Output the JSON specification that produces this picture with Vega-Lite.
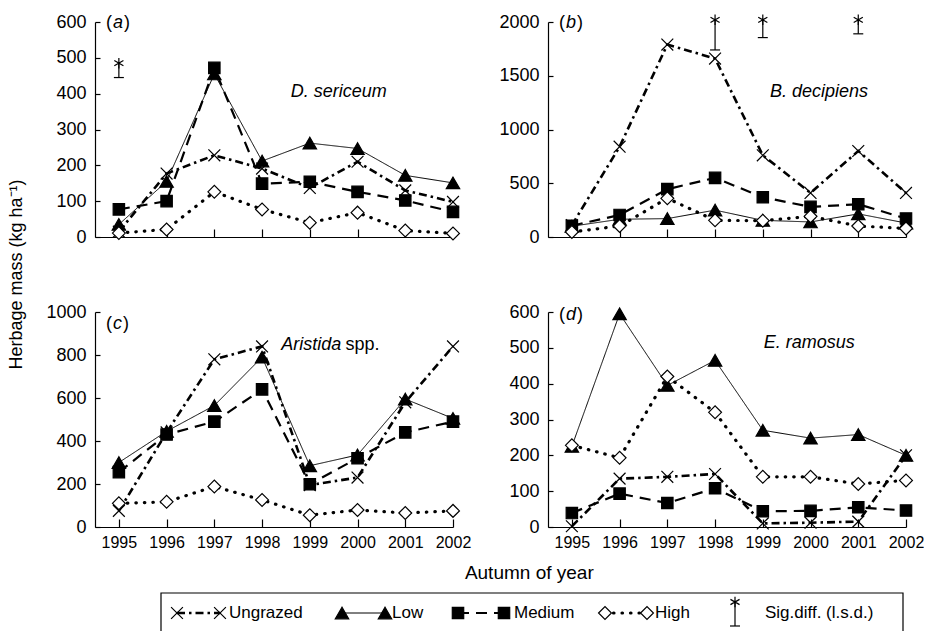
{
  "$schema": "https://vega.github.io/schema/vega-lite/v6.json",
  "background": "white",
  "padding": {"left": 7, "top": 12, "right": 0, "bottom": 0},
  "datasets": {
    "series": [
      {"p":"a","s":"Ungrazed","yr":1995,"v":15},{"p":"a","s":"Ungrazed","yr":1996,"v":177},{"p":"a","s":"Ungrazed","yr":1997,"v":228},{"p":"a","s":"Ungrazed","yr":1998,"v":191},{"p":"a","s":"Ungrazed","yr":1999,"v":137},{"p":"a","s":"Ungrazed","yr":2000,"v":210},{"p":"a","s":"Ungrazed","yr":2001,"v":130},{"p":"a","s":"Ungrazed","yr":2002,"v":98},
      {"p":"a","s":"Low","yr":1995,"v":35},{"p":"a","s":"Low","yr":1996,"v":155},{"p":"a","s":"Low","yr":1997,"v":455},{"p":"a","s":"Low","yr":1998,"v":212},{"p":"a","s":"Low","yr":1999,"v":262},{"p":"a","s":"Low","yr":2000,"v":247},{"p":"a","s":"Low","yr":2001,"v":172},{"p":"a","s":"Low","yr":2002,"v":151},
      {"p":"a","s":"Medium","yr":1995,"v":77},{"p":"a","s":"Medium","yr":1996,"v":100},{"p":"a","s":"Medium","yr":1997,"v":472},{"p":"a","s":"Medium","yr":1998,"v":149},{"p":"a","s":"Medium","yr":1999,"v":154},{"p":"a","s":"Medium","yr":2000,"v":126},{"p":"a","s":"Medium","yr":2001,"v":102},{"p":"a","s":"Medium","yr":2002,"v":70},
      {"p":"a","s":"High","yr":1995,"v":11},{"p":"a","s":"High","yr":1996,"v":21},{"p":"a","s":"High","yr":1997,"v":126},{"p":"a","s":"High","yr":1998,"v":77},{"p":"a","s":"High","yr":1999,"v":40},{"p":"a","s":"High","yr":2000,"v":68},{"p":"a","s":"High","yr":2001,"v":18},{"p":"a","s":"High","yr":2002,"v":10},
      {"p":"b","s":"Ungrazed","yr":1995,"v":110},{"p":"b","s":"Ungrazed","yr":1996,"v":840},{"p":"b","s":"Ungrazed","yr":1997,"v":1790},{"p":"b","s":"Ungrazed","yr":1998,"v":1660},{"p":"b","s":"Ungrazed","yr":1999,"v":760},{"p":"b","s":"Ungrazed","yr":2000,"v":410},{"p":"b","s":"Ungrazed","yr":2001,"v":800},{"p":"b","s":"Ungrazed","yr":2002,"v":410},
      {"p":"b","s":"Low","yr":1995,"v":100},{"p":"b","s":"Low","yr":1996,"v":165},{"p":"b","s":"Low","yr":1997,"v":171},{"p":"b","s":"Low","yr":1998,"v":250},{"p":"b","s":"Low","yr":1999,"v":155},{"p":"b","s":"Low","yr":2000,"v":140},{"p":"b","s":"Low","yr":2001,"v":215},{"p":"b","s":"Low","yr":2002,"v":130},
      {"p":"b","s":"Medium","yr":1995,"v":105},{"p":"b","s":"Medium","yr":1996,"v":205},{"p":"b","s":"Medium","yr":1997,"v":445},{"p":"b","s":"Medium","yr":1998,"v":550},{"p":"b","s":"Medium","yr":1999,"v":370},{"p":"b","s":"Medium","yr":2000,"v":280},{"p":"b","s":"Medium","yr":2001,"v":305},{"p":"b","s":"Medium","yr":2002,"v":172},
      {"p":"b","s":"High","yr":1995,"v":47},{"p":"b","s":"High","yr":1996,"v":102},{"p":"b","s":"High","yr":1997,"v":360},{"p":"b","s":"High","yr":1998,"v":155},{"p":"b","s":"High","yr":1999,"v":152},{"p":"b","s":"High","yr":2000,"v":192},{"p":"b","s":"High","yr":2001,"v":102},{"p":"b","s":"High","yr":2002,"v":80},
      {"p":"c","s":"Ungrazed","yr":1995,"v":75},{"p":"c","s":"Ungrazed","yr":1996,"v":440},{"p":"c","s":"Ungrazed","yr":1997,"v":780},{"p":"c","s":"Ungrazed","yr":1998,"v":840},{"p":"c","s":"Ungrazed","yr":1999,"v":195},{"p":"c","s":"Ungrazed","yr":2000,"v":230},{"p":"c","s":"Ungrazed","yr":2001,"v":580},{"p":"c","s":"Ungrazed","yr":2002,"v":840},
      {"p":"c","s":"Low","yr":1995,"v":300},{"p":"c","s":"Low","yr":1996,"v":445},{"p":"c","s":"Low","yr":1997,"v":565},{"p":"c","s":"Low","yr":1998,"v":790},{"p":"c","s":"Low","yr":1999,"v":285},{"p":"c","s":"Low","yr":2000,"v":335},{"p":"c","s":"Low","yr":2001,"v":595},{"p":"c","s":"Low","yr":2002,"v":505},
      {"p":"c","s":"Medium","yr":1995,"v":255},{"p":"c","s":"Medium","yr":1996,"v":430},{"p":"c","s":"Medium","yr":1997,"v":490},{"p":"c","s":"Medium","yr":1998,"v":640},{"p":"c","s":"Medium","yr":1999,"v":199},{"p":"c","s":"Medium","yr":2000,"v":320},{"p":"c","s":"Medium","yr":2001,"v":440},{"p":"c","s":"Medium","yr":2002,"v":490},
      {"p":"c","s":"High","yr":1995,"v":110},{"p":"c","s":"High","yr":1996,"v":117},{"p":"c","s":"High","yr":1997,"v":188},{"p":"c","s":"High","yr":1998,"v":126},{"p":"c","s":"High","yr":1999,"v":55},{"p":"c","s":"High","yr":2000,"v":79},{"p":"c","s":"High","yr":2001,"v":65},{"p":"c","s":"High","yr":2002,"v":75},
      {"p":"d","s":"Ungrazed","yr":1995,"v":2},{"p":"d","s":"Ungrazed","yr":1996,"v":135},{"p":"d","s":"Ungrazed","yr":1997,"v":140},{"p":"d","s":"Ungrazed","yr":1998,"v":148},{"p":"d","s":"Ungrazed","yr":1999,"v":10},{"p":"d","s":"Ungrazed","yr":2000,"v":12},{"p":"d","s":"Ungrazed","yr":2001,"v":15},{"p":"d","s":"Ungrazed","yr":2002,"v":200},
      {"p":"d","s":"Low","yr":1995,"v":225},{"p":"d","s":"Low","yr":1996,"v":595},{"p":"d","s":"Low","yr":1997,"v":395},{"p":"d","s":"Low","yr":1998,"v":465},{"p":"d","s":"Low","yr":1999,"v":270},{"p":"d","s":"Low","yr":2000,"v":248},{"p":"d","s":"Low","yr":2001,"v":258},{"p":"d","s":"Low","yr":2002,"v":200},
      {"p":"d","s":"Medium","yr":1995,"v":39},{"p":"d","s":"Medium","yr":1996,"v":93},{"p":"d","s":"Medium","yr":1997,"v":67},{"p":"d","s":"Medium","yr":1998,"v":108},{"p":"d","s":"Medium","yr":1999,"v":44},{"p":"d","s":"Medium","yr":2000,"v":45},{"p":"d","s":"Medium","yr":2001,"v":55},{"p":"d","s":"Medium","yr":2002,"v":46},
      {"p":"d","s":"High","yr":1995,"v":228},{"p":"d","s":"High","yr":1996,"v":193},{"p":"d","s":"High","yr":1997,"v":420},{"p":"d","s":"High","yr":1998,"v":320},{"p":"d","s":"High","yr":1999,"v":140},{"p":"d","s":"High","yr":2000,"v":140},{"p":"d","s":"High","yr":2001,"v":120},{"p":"d","s":"High","yr":2002,"v":130}
    ],
    "lsd": [
      {"p":"a","yr":1995,"v":445,"v2":485},
      {"p":"b","yr":1998,"v":1740,"v2":2020},
      {"p":"b","yr":1999,"v":1855,"v2":2020},
      {"p":"b","yr":2001,"v":1890,"v2":2020}
    ],
    "plab": [
      {"p":"a","yr":1994.73,"v":598,"t":"a"},
      {"p":"b","yr":1994.73,"v":1990,"t":"b"},
      {"p":"c","yr":1994.73,"v":945,"t":"c"},
      {"p":"d","yr":1994.73,"v":591,"t":"d"}
    ],
    "spec": [
      {"p":"a","yr":1998.6,"v":406,"t":"D. sericeum","it":true},
      {"p":"b","yr":1999.15,"v":1345,"t":"B. decipiens","it":true},
      {"p":"c","yr":1998.4,"v":847,"t":"Aristida","it":true},
      {"p":"c","yr":1999.75,"v":847,"t":"spp.","it":false},
      {"p":"d","yr":1999.02,"v":513,"t":"E. ramosus","it":true}
    ],
    "leg": [
      {"s":"Ungrazed","lx":82,"ly":0.645},{"s":"Ungrazed","lx":125,"ly":0.645},
      {"s":"Low","lx":247,"ly":0.645},{"s":"Low","lx":290,"ly":0.645},
      {"s":"Medium","lx":363,"ly":0.645},{"s":"Medium","lx":409,"ly":0.645},
      {"s":"High","lx":510,"ly":0.645},{"s":"High","lx":552,"ly":0.645}
    ],
    "legtext": [
      {"t":"Ungrazed","lx":134,"ly":0.645},
      {"t":"Low","lx":297,"ly":0.645},
      {"t":"Medium","lx":419,"ly":0.645},
      {"t":"High","lx":560,"ly":0.645},
      {"t":"Sig.diff. (l.s.d.)","lx":670,"ly":0.645}
    ],
    "legbox": [{"lx":66,"lx2":808,"ly":0,"ly2":1.29}],
    "leglsd": [{"lx":640,"ly":0.226,"ly2":1.0}]
  },
  "columns": 2,
  "bounds": "flush",
  "spacing": {"row": 75, "column": 95},
  "resolve": {"scale": {"x": "independent", "y": "independent"}},
  "concat": [
    {
      "width": 358, "height": 215,
      "encoding": {
        "x": {"field":"yr","type":"quantitative","scale":{"domain":[1994.5,2002],"nice":false,"zero":false},"axis":{"values":[1995,1996,1997,1998,1999,2000,2001,2002],"format":"d","labels":false,"title":null}},
        "y": {"field":"v","type":"quantitative","scale":{"domain":[0,600],"nice":false},"axis":{"values":[0,100,200,300,400,500,600],"format":"d","title":null}}
      },
      "layer": [
        {"data":{"name":"series"},"transform":[{"filter":"datum.p==='a' && datum.s!=='High'"}],"mark":{"type":"line","color":"black"},
         "encoding":{"strokeDash":{"field":"s","scale":{"type":"ordinal","domain":["Ungrazed","Low","Medium","High"],"range":[[8,4,2.5,4],[1,0],[11,7],[1,8]]},"legend":null},
                     "strokeWidth":{"field":"s","scale":{"type":"ordinal","domain":["Ungrazed","Low","Medium","High"],"range":[2.6,1,2.2,3]},"legend":null}}},
        {"data":{"name":"series"},"transform":[{"filter":"datum.p==='a' && datum.s==='High'"}],"mark":{"type":"line","color":"black","strokeWidth":3.2,"strokeDash":[0.5,8],"strokeCap":"round"},"encoding":{}},
        {"data":{"name":"series"},"transform":[{"filter":"datum.p==='a'"}],"mark":{"type":"point","filled":true,"stroke":"black","strokeWidth":1.2,"opacity":1},
         "encoding":{"shape":{"field":"s","scale":{"domain":["Ungrazed","Low","Medium","High"],"range":["M-1,-1L1,1M-1,1L1,-1","triangle-up","square","diamond"]},"legend":null},
                     "fill":{"field":"s","scale":{"domain":["Ungrazed","Low","Medium","High"],"range":["transparent","black","black","white"]},"legend":null},
                     "size":{"field":"s","scale":{"type":"ordinal","domain":["Ungrazed","Low","Medium","High"],"range":[140,180,130,165]},"legend":null}}},
        {"data":{"name":"lsd"},"transform":[{"filter":"datum.p==='a'"}],"mark":{"type":"rule","color":"black","strokeWidth":1.2},"encoding":{"y2":{"field":"v2"}}},
        {"data":{"name":"lsd"},"transform":[{"filter":"datum.p==='a'"}],"mark":{"type":"point","shape":"M-1,0L1,0","size":100,"stroke":"black","strokeWidth":1.2,"filled":false,"opacity":1},"encoding":{}},
        {"data":{"name":"lsd"},"transform":[{"filter":"datum.p==='a'"}],"mark":{"type":"point","shape":"M0,-1L0,1M-0.87,-0.5L0.87,0.5M-0.87,0.5L0.87,-0.5","size":110,"stroke":"black","strokeWidth":1.2,"filled":false,"opacity":1},"encoding":{"y":{"field":"v2","type":"quantitative","title":null}}},
        {"data":{"name":"plab"},"transform":[{"filter":"datum.p==='a'"}],"mark":{"type":"text","text":"(","align":"left","baseline":"middle","fontSize":18,"font":"Liberation Sans","color":"black"},"encoding":{}},
        {"data":{"name":"plab"},"transform":[{"filter":"datum.p==='a'"}],"mark":{"type":"text","align":"left","baseline":"middle","fontSize":18,"font":"Liberation Sans","fontStyle":"italic","dx":7,"color":"black"},"encoding":{"text":{"field":"t"}}},
        {"data":{"name":"plab"},"transform":[{"filter":"datum.p==='a'"}],"mark":{"type":"text","text":")","align":"left","baseline":"middle","fontSize":18,"font":"Liberation Sans","dx":18,"color":"black"},"encoding":{}},
        {"data":{"name":"spec"},"transform":[{"filter":"datum.p==='a' && datum.it"}],"mark":{"type":"text","align":"left","baseline":"middle","fontSize":18,"font":"Liberation Sans","fontStyle":"italic","color":"black"},"encoding":{"text":{"field":"t"}}}
      ]
    },
    {
      "width": 358, "height": 215,
      "encoding": {
        "x": {"field":"yr","type":"quantitative","scale":{"domain":[1994.5,2002],"nice":false,"zero":false},"axis":{"values":[1995,1996,1997,1998,1999,2000,2001,2002],"format":"d","labels":false,"title":null}},
        "y": {"field":"v","type":"quantitative","scale":{"domain":[0,2000],"nice":false},"axis":{"values":[0,500,1000,1500,2000],"format":"d","title":null}}
      },
      "layer": [
        {"data":{"name":"series"},"transform":[{"filter":"datum.p==='b' && datum.s!=='High'"}],"mark":{"type":"line","color":"black"},
         "encoding":{"strokeDash":{"field":"s","scale":{"type":"ordinal","domain":["Ungrazed","Low","Medium","High"],"range":[[8,4,2.5,4],[1,0],[11,7],[1,8]]},"legend":null},
                     "strokeWidth":{"field":"s","scale":{"type":"ordinal","domain":["Ungrazed","Low","Medium","High"],"range":[2.6,1,2.2,3]},"legend":null}}},
        {"data":{"name":"series"},"transform":[{"filter":"datum.p==='b' && datum.s==='High'"}],"mark":{"type":"line","color":"black","strokeWidth":3.2,"strokeDash":[0.5,8],"strokeCap":"round"},"encoding":{}},
        {"data":{"name":"series"},"transform":[{"filter":"datum.p==='b'"}],"mark":{"type":"point","filled":true,"stroke":"black","strokeWidth":1.2,"opacity":1},
         "encoding":{"shape":{"field":"s","scale":{"domain":["Ungrazed","Low","Medium","High"],"range":["M-1,-1L1,1M-1,1L1,-1","triangle-up","square","diamond"]},"legend":null},
                     "fill":{"field":"s","scale":{"domain":["Ungrazed","Low","Medium","High"],"range":["transparent","black","black","white"]},"legend":null},
                     "size":{"field":"s","scale":{"type":"ordinal","domain":["Ungrazed","Low","Medium","High"],"range":[140,180,130,165]},"legend":null}}},
        {"data":{"name":"lsd"},"transform":[{"filter":"datum.p==='b'"}],"mark":{"type":"rule","color":"black","strokeWidth":1.2},"encoding":{"y2":{"field":"v2"}}},
        {"data":{"name":"lsd"},"transform":[{"filter":"datum.p==='b'"}],"mark":{"type":"point","shape":"M-1,0L1,0","size":100,"stroke":"black","strokeWidth":1.2,"filled":false,"opacity":1},"encoding":{}},
        {"data":{"name":"lsd"},"transform":[{"filter":"datum.p==='b'"}],"mark":{"type":"point","shape":"M0,-1L0,1M-0.87,-0.5L0.87,0.5M-0.87,0.5L0.87,-0.5","size":110,"stroke":"black","strokeWidth":1.2,"filled":false,"opacity":1},"encoding":{"y":{"field":"v2","type":"quantitative","title":null}}},
        {"data":{"name":"plab"},"transform":[{"filter":"datum.p==='b'"}],"mark":{"type":"text","text":"(","align":"left","baseline":"middle","fontSize":18,"font":"Liberation Sans","color":"black"},"encoding":{}},
        {"data":{"name":"plab"},"transform":[{"filter":"datum.p==='b'"}],"mark":{"type":"text","align":"left","baseline":"middle","fontSize":18,"font":"Liberation Sans","fontStyle":"italic","dx":7,"color":"black"},"encoding":{"text":{"field":"t"}}},
        {"data":{"name":"plab"},"transform":[{"filter":"datum.p==='b'"}],"mark":{"type":"text","text":")","align":"left","baseline":"middle","fontSize":18,"font":"Liberation Sans","dx":18,"color":"black"},"encoding":{}},
        {"data":{"name":"spec"},"transform":[{"filter":"datum.p==='b' && datum.it"}],"mark":{"type":"text","align":"left","baseline":"middle","fontSize":18,"font":"Liberation Sans","fontStyle":"italic","color":"black"},"encoding":{"text":{"field":"t"}}}
      ]
    },
    {
      "width": 358, "height": 215,
      "encoding": {
        "x": {"field":"yr","type":"quantitative","scale":{"domain":[1994.5,2002],"nice":false,"zero":false},"axis":{"values":[1995,1996,1997,1998,1999,2000,2001,2002],"format":"d","title":null}},
        "y": {"field":"v","type":"quantitative","scale":{"domain":[0,1000],"nice":false},"axis":{"values":[0,200,400,600,800,1000],"format":"d","title":"Herbage mass (kg ha⁻¹)","titleFontSize":18,"titleX":-70,"titleY":-38}}
      },
      "layer": [
        {"data":{"name":"series"},"transform":[{"filter":"datum.p==='c' && datum.s!=='High'"}],"mark":{"type":"line","color":"black"},
         "encoding":{"strokeDash":{"field":"s","scale":{"type":"ordinal","domain":["Ungrazed","Low","Medium","High"],"range":[[8,4,2.5,4],[1,0],[11,7],[1,8]]},"legend":null},
                     "strokeWidth":{"field":"s","scale":{"type":"ordinal","domain":["Ungrazed","Low","Medium","High"],"range":[2.6,1,2.2,3]},"legend":null}}},
        {"data":{"name":"series"},"transform":[{"filter":"datum.p==='c' && datum.s==='High'"}],"mark":{"type":"line","color":"black","strokeWidth":3.2,"strokeDash":[0.5,8],"strokeCap":"round"},"encoding":{}},
        {"data":{"name":"series"},"transform":[{"filter":"datum.p==='c'"}],"mark":{"type":"point","filled":true,"stroke":"black","strokeWidth":1.2,"opacity":1},
         "encoding":{"shape":{"field":"s","scale":{"domain":["Ungrazed","Low","Medium","High"],"range":["M-1,-1L1,1M-1,1L1,-1","triangle-up","square","diamond"]},"legend":null},
                     "fill":{"field":"s","scale":{"domain":["Ungrazed","Low","Medium","High"],"range":["transparent","black","black","white"]},"legend":null},
                     "size":{"field":"s","scale":{"type":"ordinal","domain":["Ungrazed","Low","Medium","High"],"range":[140,180,130,165]},"legend":null}}},
        {"data":{"name":"plab"},"transform":[{"filter":"datum.p==='c'"}],"mark":{"type":"text","text":"(","align":"left","baseline":"middle","fontSize":18,"font":"Liberation Sans","color":"black"},"encoding":{}},
        {"data":{"name":"plab"},"transform":[{"filter":"datum.p==='c'"}],"mark":{"type":"text","align":"left","baseline":"middle","fontSize":18,"font":"Liberation Sans","fontStyle":"italic","dx":7,"color":"black"},"encoding":{"text":{"field":"t"}}},
        {"data":{"name":"plab"},"transform":[{"filter":"datum.p==='c'"}],"mark":{"type":"text","text":")","align":"left","baseline":"middle","fontSize":18,"font":"Liberation Sans","dx":17,"color":"black"},"encoding":{}},
        {"data":{"name":"spec"},"transform":[{"filter":"datum.p==='c' && datum.it"}],"mark":{"type":"text","align":"left","baseline":"middle","fontSize":18,"font":"Liberation Sans","fontStyle":"italic","color":"black"},"encoding":{"text":{"field":"t"}}},
        {"data":{"name":"spec"},"transform":[{"filter":"datum.p==='c' && !datum.it"}],"mark":{"type":"text","align":"left","baseline":"middle","fontSize":18,"font":"Liberation Sans","color":"black"},"encoding":{"text":{"field":"t"}}}
      ]
    },
    {
      "width": 358, "height": 215,
      "encoding": {
        "x": {"field":"yr","type":"quantitative","scale":{"domain":[1994.5,2002],"nice":false,"zero":false},"axis":{"values":[1995,1996,1997,1998,1999,2000,2001,2002],"format":"d","title":null}},
        "y": {"field":"v","type":"quantitative","scale":{"domain":[0,600],"nice":false},"axis":{"values":[0,100,200,300,400,500,600],"format":"d","title":null}}
      },
      "layer": [
        {"data":{"name":"series"},"transform":[{"filter":"datum.p==='d' && datum.s!=='High'"}],"mark":{"type":"line","color":"black"},
         "encoding":{"strokeDash":{"field":"s","scale":{"type":"ordinal","domain":["Ungrazed","Low","Medium","High"],"range":[[8,4,2.5,4],[1,0],[11,7],[1,8]]},"legend":null},
                     "strokeWidth":{"field":"s","scale":{"type":"ordinal","domain":["Ungrazed","Low","Medium","High"],"range":[2.6,1,2.2,3]},"legend":null}}},
        {"data":{"name":"series"},"transform":[{"filter":"datum.p==='d' && datum.s==='High'"}],"mark":{"type":"line","color":"black","strokeWidth":3.2,"strokeDash":[0.5,8],"strokeCap":"round"},"encoding":{}},
        {"data":{"name":"series"},"transform":[{"filter":"datum.p==='d'"}],"mark":{"type":"point","filled":true,"stroke":"black","strokeWidth":1.2,"opacity":1},
         "encoding":{"shape":{"field":"s","scale":{"domain":["Ungrazed","Low","Medium","High"],"range":["M-1,-1L1,1M-1,1L1,-1","triangle-up","square","diamond"]},"legend":null},
                     "fill":{"field":"s","scale":{"domain":["Ungrazed","Low","Medium","High"],"range":["transparent","black","black","white"]},"legend":null},
                     "size":{"field":"s","scale":{"type":"ordinal","domain":["Ungrazed","Low","Medium","High"],"range":[140,180,130,165]},"legend":null}}},
        {"data":{"name":"plab"},"transform":[{"filter":"datum.p==='d'"}],"mark":{"type":"text","text":"(","align":"left","baseline":"middle","fontSize":18,"font":"Liberation Sans","color":"black"},"encoding":{}},
        {"data":{"name":"plab"},"transform":[{"filter":"datum.p==='d'"}],"mark":{"type":"text","align":"left","baseline":"middle","fontSize":18,"font":"Liberation Sans","fontStyle":"italic","dx":7,"color":"black"},"encoding":{"text":{"field":"t"}}},
        {"data":{"name":"plab"},"transform":[{"filter":"datum.p==='d'"}],"mark":{"type":"text","text":")","align":"left","baseline":"middle","fontSize":18,"font":"Liberation Sans","dx":18,"color":"black"},"encoding":{}},
        {"data":{"name":"spec"},"transform":[{"filter":"datum.p==='d' && datum.it"}],"mark":{"type":"text","align":"left","baseline":"middle","fontSize":18,"font":"Liberation Sans","fontStyle":"italic","color":"black"},"encoding":{"text":{"field":"t"}}}
      ]
    },
    {
      "width": 358, "height": 31,
      "title": {"text": "Autumn of year", "fontSize": 19, "fontWeight": "normal", "font": "Liberation Sans", "color": "black", "anchor": "middle", "frame": "bounds", "offset": 9, "dx": 30},
      "encoding": {
        "x": {"field":"lx","type":"quantitative","scale":{"domain":[0,358],"nice":false,"zero":false},"axis":null},
        "y": {"field":"ly","type":"quantitative","scale":{"domain":[0,1],"nice":false,"zero":false},"axis":null}
      },
      "layer": [
        {"data":{"name":"legbox"},"mark":{"type":"rect","fill":null,"fillOpacity":0,"stroke":"black","strokeWidth":1.2},"encoding":{"x2":{"field":"lx2"},"y2":{"field":"ly2"}}},
        {"data":{"name":"leg"},"transform":[{"filter":"datum.s!=='High'"}],"mark":{"type":"line","color":"black"},
         "encoding":{"strokeDash":{"field":"s","scale":{"type":"ordinal","domain":["Ungrazed","Low","Medium","High"],"range":[[8,4,2.5,4],[1,0],[11,7],[1,8]]},"legend":null},
                     "strokeWidth":{"field":"s","scale":{"type":"ordinal","domain":["Ungrazed","Low","Medium","High"],"range":[2.6,1,2.2,3]},"legend":null}}},
        {"data":{"name":"leg"},"transform":[{"filter":"datum.s==='High'"}],"mark":{"type":"line","color":"black","strokeWidth":3.2,"strokeDash":[0.5,8],"strokeCap":"round"},"encoding":{}},
        {"data":{"name":"leg"},"mark":{"type":"point","filled":true,"stroke":"black","strokeWidth":1.2,"opacity":1},
         "encoding":{"shape":{"field":"s","scale":{"domain":["Ungrazed","Low","Medium","High"],"range":["M-1,-1L1,1M-1,1L1,-1","triangle-up","square","diamond"]},"legend":null},
                     "fill":{"field":"s","scale":{"domain":["Ungrazed","Low","Medium","High"],"range":["transparent","black","black","white"]},"legend":null},
                     "size":{"field":"s","scale":{"type":"ordinal","domain":["Ungrazed","Low","Medium","High"],"range":[140,180,130,165]},"legend":null}}},
        {"data":{"name":"legtext"},"mark":{"type":"text","align":"left","baseline":"middle","fontSize":17,"font":"Liberation Sans","color":"black"},"encoding":{"text":{"field":"t"}}},
        {"data":{"name":"leglsd"},"mark":{"type":"rule","color":"black","strokeWidth":1.2},"encoding":{"y2":{"field":"ly2"}}},
        {"data":{"name":"leglsd"},"mark":{"type":"point","shape":"M-1,0L1,0","size":100,"stroke":"black","strokeWidth":1.2,"filled":false,"opacity":1},"encoding":{}},
        {"data":{"name":"leglsd"},"mark":{"type":"point","shape":"M0,-1L0,1M-0.87,-0.5L0.87,0.5M-0.87,0.5L0.87,-0.5","size":110,"stroke":"black","strokeWidth":1.2,"filled":false,"opacity":1},"encoding":{"y":{"field":"ly2","type":"quantitative","title":null}}}
      ]
    }
  ],
  "config": {
    "view": {"stroke": null},
    "axis": {"grid": false, "domainColor": "black", "domainWidth": 1.2, "tickColor": "black", "tickWidth": 1.2, "labelColor": "black", "labelFont": "Liberation Sans", "titleFont": "Liberation Sans", "titleColor": "black", "titleFontWeight": "normal"},
    "axisX": {"tickSize": -8, "labelFontSize": 16, "labelPadding": 15, "labelFlush": false},
    "axisY": {"tickSize": -5, "labelFontSize": 18, "labelPadding": 14}
  }
}
